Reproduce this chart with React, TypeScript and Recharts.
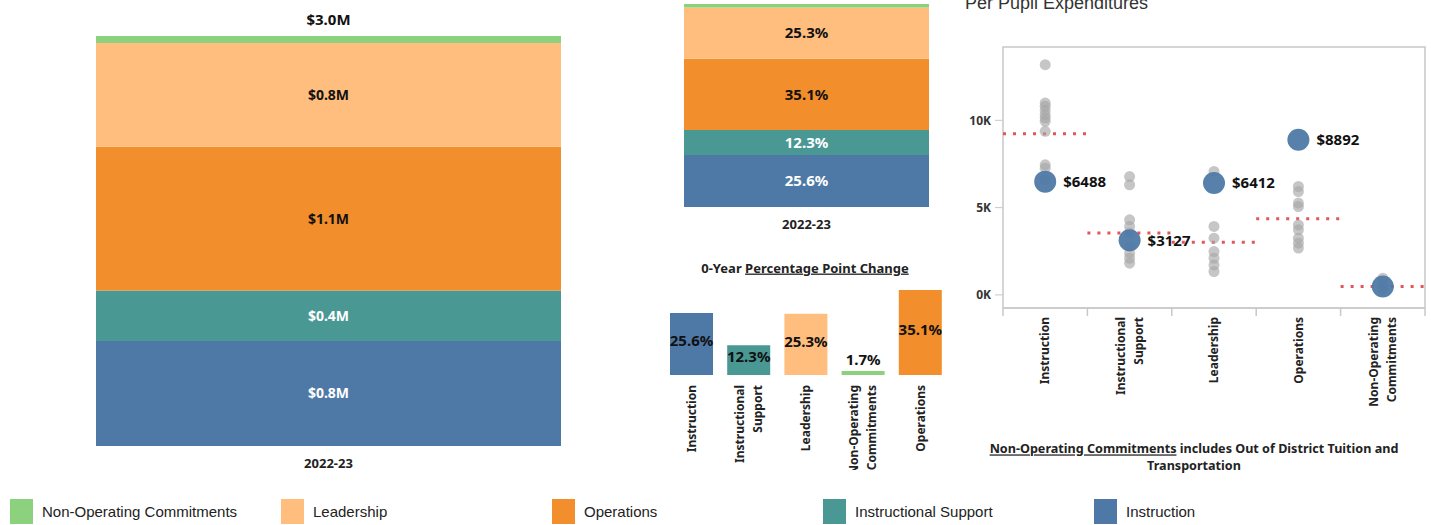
import React from 'react';
import {
  BarChart, Bar, XAxis, YAxis, LabelList, Cell,
  ScatterChart, Scatter, ReferenceLine, ReferenceArea,
} from 'recharts';

// spending by function, stacked bottom -> top
const years = ['2022-23'];
const stackCats = ['Instruction', 'Instructional Support', 'Operations', 'Leadership', 'Non-Operating Commitments'];
const stackDollars = [768000, 369000, 1053000, 759000, 51000];
const stackShare = [25.6, 12.3, 35.1, 25.3, 1.7];
const stackLabelColor = ['#ffffff', '#ffffff', '#111111', '#111111', ''];

// percentage point change
const changeCats = ['Instruction', 'Instructional Support', 'Leadership', 'Non-Operating Commitments', 'Operations'];
const changeValues = [25.6, 12.3, 25.3, 1.7, 35.1];

// per pupil expenditures
const ppeCats = ['Instruction', 'Instructional Support', 'Leadership', 'Operations', 'Non-Operating Commitments'];
const ppeDistrict = [6488, 3127, 6412, 8892, 480];
const ppeShowLabel = [true, true, true, true, false];
const ppeAverage = [9230, 3540, 3020, 4360, 480];
const ppePeers = [
  [13190, 10990, 10800, 10570, 10320, 10130, 9940, 9370, 7450, 7260, 6600],
  [6780, 6310, 4300, 3920, 3550, 2770, 2390, 2100, 1820],
  [7070, 3920, 3250, 2480, 2100, 1720, 1340],
  [6210, 5920, 5260, 5060, 4010, 3730, 3250, 2960, 2680],
  [960, 500, 300],
];
const ppeTicks = [0, 5000, 10000];

const legendCats = ['Non-Operating Commitments', 'Leadership', 'Operations', 'Instructional Support', 'Instruction'];
const catColors: Record<string, string> = {
  'Instruction': '#4E79A7',
  'Instructional Support': '#499894',
  'Operations': '#F28E2B',
  'Leadership': '#FFBE7D',
  'Non-Operating Commitments': '#8CD17D',
};

const BOLD = '"Noto Sans", "DejaVu Sans", sans-serif';
const fmtM = (v: number) => `$${(v / 1e6).toFixed(1)}M`;
const fmtPct = (v: number) => `${Number(v).toFixed(1)}%`;

const dollarRow: any = { year: years[0] };
stackCats.forEach((c, i) => { dollarRow[c] = stackDollars[i]; });
const dollarTotal = stackDollars.reduce((a, b) => a + b, 0);

const shareRow: any = { year: years[0] };
stackCats.forEach((c, i) => { shareRow[c] = stackShare[i]; });

const changeData = changeCats.map((c, i) => ({ cat: c, value: changeValues[i] }));

const peerPoints = ppePeers.flatMap((vals, i) => vals.map((v) => ({ x: i + 0.5, y: v })));
const districtPoints = ppeDistrict.map((v, i) => ({ x: i + 0.5, y: v, label: ppeShowLabel[i] ? `$${v}` : '' }));
const ppeXTicks = ppeCats.flatMap((_, i) => [i, i + 0.5]).concat(ppeCats.length);

const YearTick = (props: any) => (
  <text x={props.x} y={props.y + 17} dy="0.35em" textAnchor="middle"
    fontFamily={BOLD} fontWeight={700} fontSize={13} fill="#222">
    {props.payload.value}
  </text>
);

const rotLabel = (x: number, y: number, name: string) => {
  const lines = name.split(' ');
  return (
    <g transform={`translate(${x},${y}) rotate(-90)`}>
      {lines.map((ln, i) => (
        <text key={i} x={0} y={(i - (lines.length - 1) / 2) * 18} dy="0.35em" textAnchor="end"
          fontFamily={BOLD} fontWeight={700} fontSize={12} fill="#222">{ln}</text>
      ))}
    </g>
  );
};

export default function App() {
  return (
    <div style={{ position: 'absolute', left: 0, top: 0, width: 1431, height: 525, background: '#fff', overflow: 'hidden' }}>
      {/* dollars stacked */}
      <div style={{ position: 'absolute', left: 0, top: 0 }}>
        <BarChart width={660} height={480} data={[dollarRow]} barCategoryGap={0}
          margin={{ top: 36, right: 99, left: 96, bottom: 4 }}>
          <XAxis dataKey="year" height={30} axisLine={false} tickLine={false} tickSize={0} tickMargin={0} tick={YearTick} />
          <YAxis hide domain={[0, dollarTotal]} />
          {stackCats.map((c, i) => (
            <Bar key={c} dataKey={c} stackId="a" fill={catColors[c]} isAnimationActive={false}>
              {stackLabelColor[i] && (
                <LabelList dataKey={c} position="center" formatter={(v: any) => fmtM(Number(v))}
                  fill={stackLabelColor[i]} fontFamily={BOLD} fontWeight={700} fontSize={14} />
              )}
              {i === stackCats.length - 1 && (
                <LabelList dataKey={c} content={(p: any) => (
                  <text x={Number(p.x) + Number(p.width) / 2} y={Number(p.y) - 16} dy="0.35em" textAnchor="middle"
                    fontFamily={BOLD} fontWeight={700} fontSize={15} fill="#111">{fmtM(dollarTotal)}</text>
                )} />
              )}
            </Bar>
          ))}
        </BarChart>
      </div>

      {/* share stacked */}
      <div style={{ position: 'absolute', left: 640, top: 0 }}>
        <BarChart width={330} height={240} data={[shareRow]} barCategoryGap={0}
          margin={{ top: 4, right: 41, left: 44, bottom: 3 }}>
          <XAxis dataKey="year" height={30} axisLine={false} tickLine={false} tickSize={0} tickMargin={0} tick={YearTick} />
          <YAxis hide domain={[0, 100]} />
          {stackCats.map((c, i) => (
            <Bar key={c} dataKey={c} stackId="a" fill={catColors[c]} isAnimationActive={false}>
              {stackLabelColor[i] && (
                <LabelList dataKey={c} position="center" formatter={(v: any) => fmtPct(Number(v))}
                  fill={stackLabelColor[i]} fontFamily={BOLD} fontWeight={700} fontSize={15} />
              )}
            </Bar>
          ))}
        </BarChart>
      </div>

      {/* percentage point change */}
      <div style={{ position: 'absolute', left: 640, top: 280 }}>
        <BarChart width={330} height={190} data={changeData} barSize={43}
          margin={{ top: 10, right: 21, left: 23, bottom: 5 }}>
          <XAxis dataKey="cat" height={90} interval={0} axisLine={false} tickLine={false} tickSize={0} tickMargin={0}
            tick={(p: any) => rotLabel(p.x, p.y + 10, String(p.payload.value))} />
          <YAxis hide domain={[0, 'dataMax']} />
          <Bar dataKey="value" isAnimationActive={false}>
            {changeData.map((d) => <Cell key={d.cat} fill={catColors[d.cat]} />)}
            <LabelList dataKey="value" content={(p: any) => {
              const x = Number(p.x), y = Number(p.y), w = Number(p.width), h = Number(p.height);
              const cy = h < 20 ? y - 11 : y + h / 2 - 3;
              return (
                <text x={x + w / 2} y={cy} dy="0.35em" textAnchor="middle"
                  fontFamily={BOLD} fontWeight={700} fontSize={15} fill="#111">{fmtPct(p.value)}</text>
              );
            }} />
          </Bar>
        </BarChart>
      </div>

      {/* per pupil expenditures */}
      <div style={{ position: 'absolute', left: 950, top: 0 }}>
        <ScatterChart width={481} height={480} margin={{ top: 47, right: 6, left: 8, bottom: 42 }}>
          <ReferenceArea x1={0} x2={5} y1={-750} y2={14200} fill="none" stroke="#c8c8c8" strokeWidth={1.5} />
          <XAxis dataKey="x" type="number" domain={[0, 5]} ticks={ppeXTicks} interval={0} height={130}
            axisLine={{ stroke: '#c8c8c8', strokeWidth: 1.5 }} tickLine={false} tickSize={0} tickMargin={0}
            tick={(p: any) => {
              const v = Number(p.payload.value);
              if (Number.isInteger(v)) return <line x1={p.x} x2={p.x} y1={p.y} y2={p.y + 8} stroke="#c8c8c8" strokeWidth={1.5} />;
              return rotLabel(p.x, p.y + 9, ppeCats[Math.floor(v)]);
            }} />
          <YAxis dataKey="y" type="number" domain={[-750, 14200]} ticks={ppeTicks} width={45} allowDataOverflow
            axisLine={false} tickSize={8} tickMargin={4} tickLine={{ stroke: '#c8c8c8' }}
            tickFormatter={(v: number) => `${v / 1000}K`}
            tick={{ fontFamily: BOLD, fontWeight: 700, fontSize: 12, fill: '#333' }} />
          <Scatter data={peerPoints} isAnimationActive={false}
            shape={(p: any) => <circle cx={p.cx} cy={p.cy} r={5.5} fill="#a8a8a8" fillOpacity={0.65} />} />
          <Scatter data={districtPoints} isAnimationActive={false}
            shape={(p: any) => (
              <g>
                <circle cx={p.cx} cy={p.cy} r={11} fill="#4E79A7" fillOpacity={0.95} />
                {p.payload.label && (
                  <text x={p.cx + 18} y={p.cy} dy="0.35em" fontFamily={BOLD} fontWeight={700} fontSize={15} fill="#111">
                    {p.payload.label}
                  </text>
                )}
              </g>
            )} />
          {ppeAverage.map((v, i) => (
            <ReferenceLine key={i} segment={[{ x: i, y: v }, { x: i + 1, y: v }]}
              stroke="#E15759" strokeWidth={3} strokeDasharray="3 7" />
          ))}
        </ScatterChart>
      </div>

      {/* titles and notes */}
      <svg width={1431} height={525} style={{ position: 'absolute', left: 0, top: 0, pointerEvents: 'none' }}>
        <text x={965} y={9} fontFamily='"Liberation Sans", Arial, sans-serif' fontSize={18} fill="#333">Per Pupil Expenditures</text>
        <text x={805} y={268} dy="0.35em" textAnchor="middle" fontFamily={BOLD} fontWeight={700} fontSize={13} fill="#222">
          0-Year <tspan style={{ textDecoration: 'underline' }}>Percentage Point Change</tspan>
        </text>
        <text x={1194} y={449} dy="0.35em" textAnchor="middle" fontFamily={BOLD} fontWeight={700} fontSize={12.6} fill="#222">
          <tspan style={{ textDecoration: 'underline' }}>Non-Operating Commitments</tspan> includes Out of District Tuition and
        </text>
        <text x={1194} y={466} dy="0.35em" textAnchor="middle" fontFamily={BOLD} fontWeight={700} fontSize={12.6} fill="#222">
          Transportation
        </text>
      </svg>

      {/* legend */}
      {legendCats.map((c, i) => (
        <div key={c} style={{ position: 'absolute', left: 10 + i * 271, top: 499, height: 25, display: 'flex', alignItems: 'center' }}>
          <div style={{ width: 23, height: 25, background: catColors[c] }} />
          <span style={{ marginLeft: 9, fontFamily: '"Liberation Sans", Arial, sans-serif', fontSize: 15, color: '#222' }}>{c}</span>
        </div>
      ))}
    </div>
  );
}
